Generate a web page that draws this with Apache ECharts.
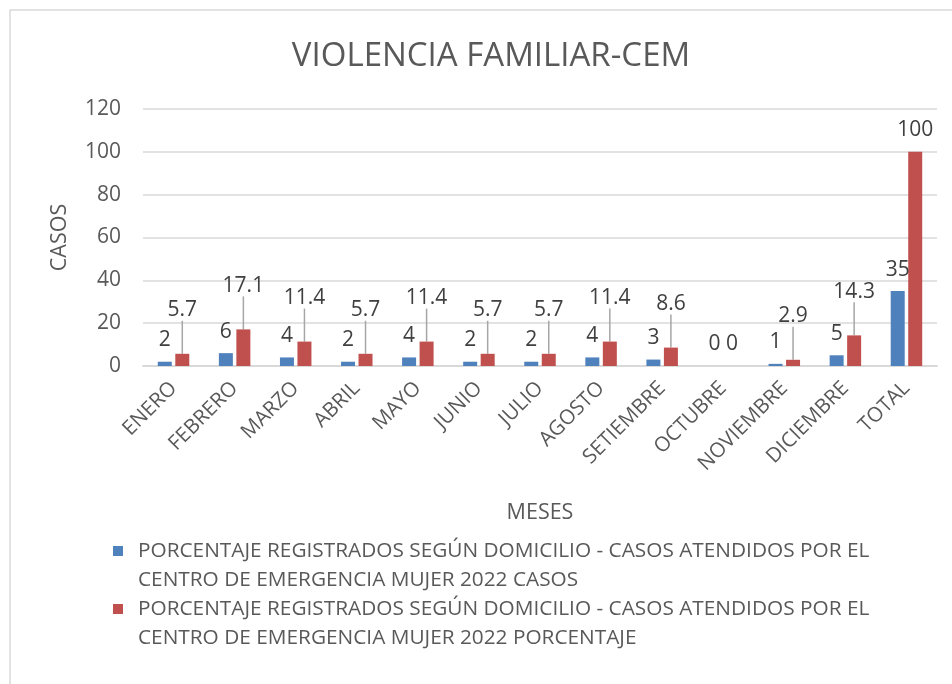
<!DOCTYPE html>
<html>
<head>
<meta charset="utf-8">
<script src="https://cdn.jsdelivr.net/npm/echarts@6/dist/echarts.min.js"></script>
<style>html,body{margin:0;padding:0;background:#fff}#c{width:952px;height:684px}</style>
</head>
<body>
<div id="c"></div>
<script>
const categories = ['ENERO','FEBRERO','MARZO','ABRIL','MAYO','JUNIO','JULIO','AGOSTO','SETIEMBRE','OCTUBRE','NOVIEMBRE','DICIEMBRE','TOTAL'];
const casos = [2,6,4,2,4,2,2,4,3,0,1,5,35];
const porcentaje = [5.7,17.1,11.4,5.7,11.4,5.7,5.7,11.4,8.6,0,2.9,14.3,100];
const yTicks = [0,20,40,60,80,100,120];
const seriesNames = [
  'PORCENTAJE REGISTRADOS SEGÚN DOMICILIO - CASOS ATENDIDOS POR EL\nCENTRO DE EMERGENCIA MUJER 2022 CASOS',
  'PORCENTAJE REGISTRADOS SEGÚN DOMICILIO - CASOS ATENDIDOS POR EL\nCENTRO DE EMERGENCIA MUJER 2022 PORCENTAJE'
];

const FONT = 'Open Sans';
const TXT = '#595959';
// legend marker: square aligned with the first text line (tiny bounding dots fix the box)
const LEG_ICON = 'path://M0,0h0.05v0.05h-0.05z M0,9h10v10h-10z M19.95,57.95h0.05v0.05h-0.05z';

const chart = echarts.init(document.getElementById('c'));
chart.setOption({
  animation: false,
  textStyle: {fontFamily: FONT},
  graphic: [{
    type: 'rect', shape: {x: 10, y: 10, width: 960, height: 700},
    style: {fill: 'none', stroke: '#d9d9d9', lineWidth: 1.5}, z: -1
  }],
  title: {
    text: 'VIOLENCIA FAMILIAR-CEM', left: 486, top: 35, textAlign: 'center',
    textStyle: {fontFamily: FONT, fontWeight: 'normal', fontSize: 33, color: TXT}
  },
  grid: {left: 143, right: 15, top: 109, bottom: 318, containLabel: false},
  legend: {
    orient: 'vertical', left: 108, top: 532, itemWidth: 20, itemHeight: 58, itemGap: 0,
    icon: LEG_ICON,
    textStyle: {fontFamily: FONT, fontSize: 20.8, color: TXT, lineHeight: 29},
    data: seriesNames
  },
  xAxis: {
    type: 'category', data: categories,
    name: 'MESES', nameLocation: 'middle', nameGap: 136,
    nameTextStyle: {fontFamily: FONT, fontSize: 21.5, color: TXT},
    axisLine: {lineStyle: {color: '#d9d9d9', width: 2}},
    axisTick: {show: false},
    axisLabel: {rotate: 45, fontFamily: FONT, fontSize: 20.5, color: TXT, margin: 19, interval: 0}
  },
  yAxis: {
    type: 'value', min: yTicks[0], max: yTicks[yTicks.length - 1], interval: 20,
    name: 'CASOS', nameLocation: 'middle', nameGap: 72,
    nameTextStyle: {fontFamily: FONT, fontSize: 21.5, color: TXT},
    axisLine: {show: false}, axisTick: {show: false},
    axisLabel: {fontFamily: FONT, fontSize: 21, color: TXT, margin: 22},
    splitLine: {lineStyle: {color: '#d9d9d9', width: 1.5}}
  },
  series: [
    {
      name: seriesNames[0], type: 'bar', data: casos, barWidth: 14, barGap: '25%',
      itemStyle: {color: '#4F81BD'},
      label: {show: true, position: 'top', distance: 11, fontFamily: FONT, fontSize: 21, color: '#404040'}
    },
    {
      name: seriesNames[1], type: 'bar', barWidth: 14, barGap: '25%',
      data: porcentaje.map(v => ({value: v, labelLine: {show: v > 0 && v < 50}})),
      itemStyle: {color: '#C0504D'},
      label: {show: true, position: 'top', distance: 11, fontFamily: FONT, fontSize: 21, color: '#404040'},
      labelLine: {show: true, lineStyle: {color: '#a6a6a6', width: 1.5}},
      labelLayout: function (p) {
        const v = porcentaje[p.dataIndex];
        if (v === 0 || v > 50) return {};
        return {dy: -22};
      }
    }
  ]
});
</script>
</body>
</html>
